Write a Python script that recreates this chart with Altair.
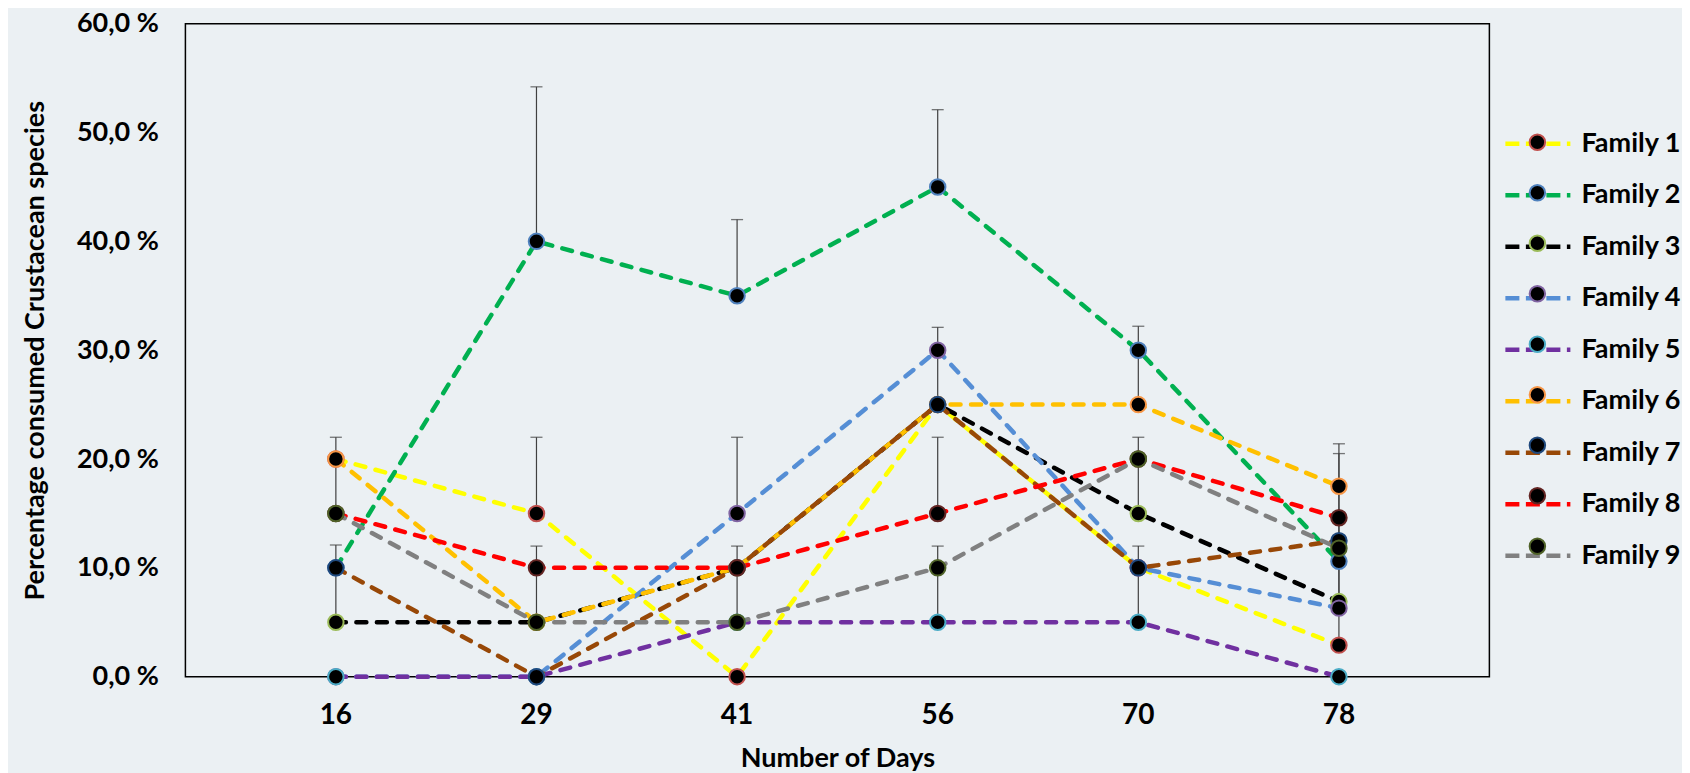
import altair as alt
import pandas as pd

# ---------------- data ----------------
days = ["16", "29", "41", "56", "70", "78"]
families = ["Family 1", "Family 2", "Family 3", "Family 4", "Family 5",
            "Family 6", "Family 7", "Family 8", "Family 9"]

family_1 = [20, 15, 0, 25, 10, 2.9]
family_2 = [10, 40, 35, 45, 30, 10.6]
family_3 = [5, 5, 10, 25, 15, 6.9]
family_4 = [0, 0, 15, 30, 10, 6.3]
family_5 = [0, 0, 5, 5, 5, 0]
family_6 = [20, 5, 10, 25, 25, 17.5]
family_7 = [10, 0, 10, 25, 10, 12.5]
family_8 = [15, 10, 10, 15, 20, 14.6]
family_9 = [15, 5, 5, 10, 20, 11.8]
series = [family_1, family_2, family_3, family_4, family_5,
          family_6, family_7, family_8, family_9]

line_colors = ["#FFFF00", "#00B050", "#000000", "#558ED5", "#7030A0",
               "#FFC000", "#984807", "#FF0000", "#808080"]
marker_edges = ["#C0504D", "#4F81BD", "#9BBB59", "#8064A2", "#4BACC6",
                "#F79646", "#1F497D", "#632523", "#4F6228"]

err_days = ["16", "16", "29", "29", "29", "41", "41", "41",
            "56", "56", "56", "56", "70", "70", "70", "78", "78"]
err_low = [15, 5, 40, 15, 5, 35, 15, 5, 45, 25, 15, 5, 25, 15, 5, 6.3, 2.9]
err_high = [22, 12.1, 54.2, 22, 12, 42, 22, 12, 52.1, 32.1, 22, 12, 32.2, 22, 12, 21.4, 20.5]

y_ticks = [0, 10, 20, 30, 40, 50, 60]

rows = []
for fam, vals in zip(families, series):
    for d, v in zip(days, vals):
        rows.append({"Day": d, "Family": fam, "Value": v})
df = pd.DataFrame(rows)
err_df = pd.DataFrame({"Day": err_days, "Low": err_low, "High": err_high})

FONT = "Lato"

x_enc = alt.X(
    "Day:O",
    scale=alt.Scale(domain=days, padding=0.5),
    axis=alt.Axis(
        title="Number of Days", labelAngle=0, ticks=False, domain=False, grid=False,
        labelFont=FONT, labelFontWeight="bold", labelFontSize=28, labelColor="black",
        labelPadding=25,
        titleFont=FONT, titleFontWeight="bold", titleFontSize=27, titleColor="black",
        titleBaseline="middle", titleY=82,
    ),
)

y_scale = alt.Scale(domain=[0, 60], nice=False, zero=True)
y_axis = alt.Axis(
    title="Percentage consumed Crustacean species",
    values=y_ticks,
    labelExpr="replace(format(datum.value, '.1f'), '.', ',') + ' %'",
    grid=False, ticks=False, domain=False, labelFlush=False, labelOverlap=False,
    labelFont=FONT, labelFontWeight="bold", labelFontSize=27, labelColor="black",
    labelPadding=27,
    titleFont=FONT, titleFontWeight="bold", titleFontSize=27, titleColor="black",
    titleBaseline="middle", titleX=-150,
)

err_rule = alt.Chart(err_df).mark_rule(color="#404040", strokeWidth=1.2).encode(
    x=x_enc,
    y=alt.Y("Low:Q", scale=y_scale, axis=y_axis),
    y2="High:Q",
)
err_cap = alt.Chart(err_df).mark_tick(color="#404040", size=12, thickness=1.3,
                                      orient="horizontal").encode(
    x=x_enc,
    y=alt.Y("High:Q", scale=y_scale, axis=y_axis),
)

line_legend = alt.Legend(
    title=None, orient="none", legendX=1337, legendY=104.6, padding=0,
    symbolType="M-2.5,0H2.5", symbolSize=676, symbolStrokeWidth=4.5,
    symbolDash=[14, 6.5], symbolFillColor="transparent",
    labelFont=FONT, labelFontWeight="bold", labelFontSize=27, labelColor="black",
    labelOffset=28, rowPadding=22.5, labelLimit=300,
)
point_legend = alt.Legend(
    title=None, orient="none", legendX=1339, legendY=105.6, padding=0,
    symbolType="circle", symbolSize=240, symbolStrokeWidth=2,
    symbolFillColor="black", symbolOpacity=1,
    labelFontSize=26, labelExpr="''", rowPadding=24.5,
)

lines = alt.Chart(df).mark_line(strokeWidth=4.5, strokeDash=[10, 10.5],
                                strokeCap="round").encode(
    x=x_enc,
    y=alt.Y("Value:Q", scale=y_scale, axis=y_axis),
    stroke=alt.Stroke("Family:N", scale=alt.Scale(domain=families, range=line_colors),
                      legend=line_legend),
)

points = alt.Chart(df).mark_point(shape="circle", filled=False, fill="black",
                                  fillOpacity=1, opacity=1, size=240,
                                  strokeWidth=2).encode(
    x=x_enc,
    y=alt.Y("Value:Q", scale=y_scale, axis=y_axis),
    stroke=alt.Stroke("Family:N", scale=alt.Scale(domain=families, range=marker_edges),
                      legend=point_legend),
)

chart = alt.layer(err_rule, err_cap, lines, points).resolve_scale(
    stroke="independent"
).properties(
    width=1304, height=653,
    autosize=alt.AutoSizeParams(type="none"),
    padding={"left": 177.4, "top": 15.7, "right": 192.5, "bottom": 100},
    background="#EBF0F3",
).configure_view(stroke="black", strokeWidth=1.5)

chart.save("out.html", embed_options={"renderer": "svg", "actions": False})
